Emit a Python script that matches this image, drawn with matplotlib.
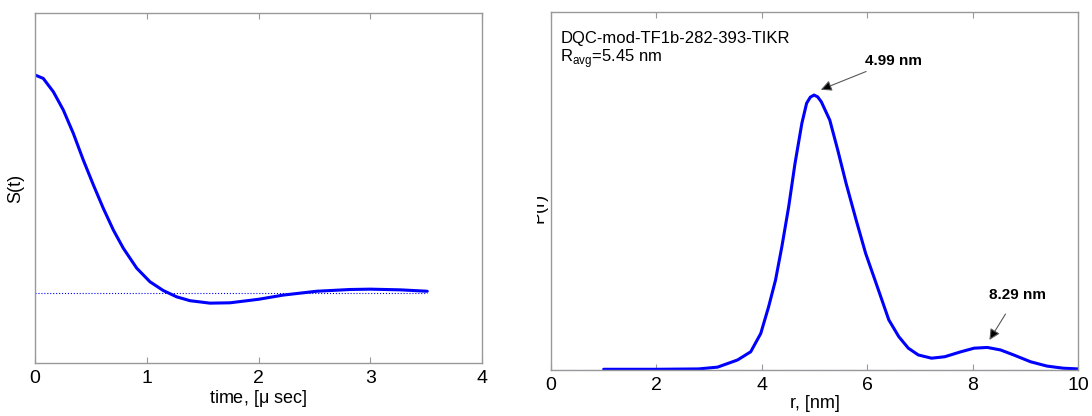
import matplotlib
matplotlib.use("Agg")
import matplotlib.pyplot as plt
from matplotlib.transforms import Bbox

plt.rcParams['font.family'] = ['Liberation Sans', 'DejaVu Sans']

# time-domain signal S(t)
t_us = [0.0, 0.074, 0.164, 0.253, 0.343, 0.432, 0.522, 0.611, 0.701, 0.790,
        0.910, 1.029, 1.148, 1.268, 1.387, 1.566, 1.745, 2.0, 2.22, 2.52,
        2.82, 3.0, 3.27, 3.51]
s_t = [0.823, 0.813, 0.775, 0.723, 0.656, 0.580, 0.509, 0.442, 0.380, 0.328,
       0.271, 0.232, 0.207, 0.189, 0.178, 0.171, 0.172, 0.182, 0.194, 0.205,
       0.210, 0.211, 0.209, 0.205]
s_baseline = 0.201

# distance distribution P(r)
r_nm = [1.0, 2.0, 2.8, 3.16, 3.54, 3.79, 3.98, 4.13, 4.26, 4.38, 4.51, 4.63,
        4.76, 4.85, 4.92, 4.99, 5.06, 5.13, 5.29, 5.44, 5.60, 5.79, 5.97,
        6.16, 6.41, 6.60, 6.78, 6.97, 7.22, 7.47, 7.78, 8.03, 8.28, 8.53,
        8.78, 9.10, 9.41, 9.72, 10.0]
p_r = [0.002, 0.002, 0.003, 0.008, 0.028, 0.051, 0.102, 0.177, 0.251, 0.344,
       0.456, 0.577, 0.689, 0.745, 0.762, 0.768, 0.763, 0.749, 0.698, 0.615,
       0.521, 0.419, 0.326, 0.246, 0.140, 0.093, 0.061, 0.042, 0.033, 0.037,
       0.051, 0.061, 0.063, 0.056, 0.042, 0.023, 0.011, 0.005, 0.003]

left_xticks = [0, 1, 2, 3, 4]
right_xticks = [0, 2, 4, 6, 8, 10]
title_label = 'DQC-mod-TF1b-282-393-TIKR'
ravg_label = r'R$_{\mathregular{avg}}$=5.45 nm'
peak1_label = '4.99 nm'
peak2_label = '8.29 nm'

W, H = 1092, 416
fig = plt.figure(figsize=(W / 100, H / 100), dpi=100)

def px_axes(x0, y0, x1, y1):
    return fig.add_axes([x0 / W, (H - y1) / H, (x1 - x0) / W, (y1 - y0) / H])

def style(ax):
    for sp in ax.spines.values():
        sp.set_color('0.6')
        sp.set_linewidth(1.0)
    ax.tick_params(axis='x', direction='in', top=True, length=4, color='0.6',
                   labelsize=14, pad=5)
    ax.set_yticks([])

blue = (0, 0, 1)

# left: S(t)
ax1 = px_axes(35, 13, 482, 363)
ax1.plot([0, t_us[-1]], [s_baseline, s_baseline], ':', color=blue, lw=0.8)
ax1.plot(t_us, s_t, color=blue, lw=2.2, solid_capstyle='round',
         solid_joinstyle='round')
ax1.set_xlim(0, 4)
ax1.set_ylim(0, 1)
ax1.set_xticks(left_xticks)
style(ax1)
ax1.set_xlabel(r'time, [$\mathregular{\mu}$ sec]', fontsize=13, labelpad=1)
ax1.set_ylabel('S(t)', fontsize=13, labelpad=8)

# right: P(r)
ax2 = px_axes(551, 12, 1078, 370)
ax2.plot([0, 10], [0, 0], ':', color=blue, lw=0.8)
ax2.plot(r_nm, p_r, color=blue, lw=2.2, solid_capstyle='round',
         solid_joinstyle='round')
ax2.set_xlim(0, 10)
ax2.set_ylim(0, 1)
ax2.set_xticks(right_xticks)
style(ax2)
ax2.set_xlabel('r, [nm]', fontsize=13, labelpad=1)

ax2.text(0.18, 0.925, title_label, fontsize=12, va='center')
ax2.text(0.18, 0.87, ravg_label, fontsize=12, va='center')

arrow = dict(arrowstyle='-|>', color='0.35', fc='k', lw=0.8, mutation_scale=16)
ax2.annotate(peak1_label, xy=(5.12, 0.783), xytext=(5.95, 0.864),
             fontsize=11, fontweight='bold', va='center', ha='left',
             arrowprops=dict(arrow, shrinkA=2, shrinkB=0))
ax2.annotate(peak2_label, xy=(8.32, 0.084), xytext=(8.85, 0.21),
             fontsize=11, fontweight='bold', va='center', ha='center',
             arrowprops=dict(arrow, shrinkA=8, shrinkB=0))

# y label on right panel is cut off on its left side in the original
ylab = fig.text(539 / W, 0.5, 'P(r)', rotation=90, fontsize=13,
                ha='center', va='center')
ylab.set_clip_box(Bbox.from_extents(537, 0, W, H))
ylab.set_clip_on(True)

fig.savefig('out.png', dpi=100)
